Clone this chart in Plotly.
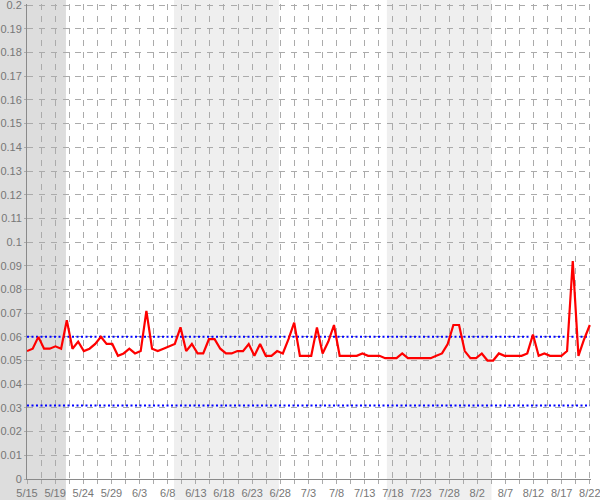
import pandas as pd
import plotly.graph_objects as go

START = "2013-05-15"
END = "2013-08-22"

VALUES = [
    0.054, 0.055, 0.060, 0.055, 0.055, 0.056, 0.055, 0.067, 0.055, 0.058,
    0.054, 0.055, 0.057, 0.060, 0.057, 0.057, 0.052, 0.053, 0.055, 0.053,
    0.054, 0.071, 0.055, 0.054, 0.055, 0.056, 0.057, 0.064, 0.054, 0.057,
    0.053, 0.053, 0.059, 0.059, 0.055, 0.053, 0.053, 0.054, 0.054, 0.057,
    0.052, 0.057, 0.052, 0.052, 0.054, 0.053, 0.059, 0.066, 0.052, 0.052,
    0.052, 0.064, 0.053, 0.058, 0.065, 0.052, 0.052, 0.052, 0.052, 0.053,
    0.052, 0.052, 0.052, 0.051, 0.051, 0.051, 0.053, 0.051, 0.051, 0.051,
    0.051, 0.051, 0.052, 0.053, 0.057, 0.065, 0.065, 0.054, 0.051, 0.051,
    0.053, 0.050, 0.050, 0.053, 0.052, 0.052, 0.052, 0.052, 0.053, 0.061,
    0.052, 0.053, 0.052, 0.052, 0.052, 0.054, 0.092, 0.052, 0.059, 0.065,
]

X_LABELS = ["5/15", "5/19", "5/24", "5/29", "6/3", "6/8", "6/13", "6/18", "6/23",
            "6/28", "7/3", "7/8", "7/13", "7/18", "7/23", "7/28", "8/2", "8/7",
            "8/12", "8/17", "8/22"]

Y_TICKS = [round(i * 0.01, 2) for i in range(21)]

THRESHOLDS = [0.06, 0.031]

DARK_BAND_END = "2013-05-21 20:24"
LIGHT_BANDS = [("2013-06-09 20:24", "2013-06-28 07:12"),
               ("2013-07-17 07:12", "2013-08-04 16:48")]

t0 = pd.Timestamp(START)
t1 = pd.Timestamp(END)
span = t1 - t0
dates = pd.date_range(START, periods=len(VALUES), freq="D")

tickvals = [t0 + span * i / 40 for i in range(41)]
ticktext = [X_LABELS[i // 2] if i % 2 == 0 else "" for i in range(41)]

# tiny padding so the end gridlines (0.2 and 8/22) are still drawn
x_end = t1 + pd.Timedelta(hours=5)
y_end = 0.2005

GRID = "#ababab"
AXIS = "#8a8a8a"
FONT = dict(family="Liberation Sans, Arial, sans-serif", size=11, color="#777777")

fig = go.Figure()
fig.add_trace(go.Scatter(x=dates, y=VALUES, mode="lines",
                         line=dict(color="#ff0000", width=2.2), hoverinfo="skip"))

shapes = []
dark_frac = (pd.Timestamp(DARK_BAND_END) - t0) / (x_end - t0)
shapes.append(dict(type="rect", xref="paper", yref="paper", x0=-0.2, x1=dark_frac,
                   y0=-0.2, y1=1.2, fillcolor="#dddddd", line_width=0, layer="below"))
for a, b in LIGHT_BANDS:
    shapes.append(dict(type="rect", xref="x", yref="paper", x0=a, x1=b,
                       y0=-0.2, y1=1.2, fillcolor="#efefef", line_width=0, layer="below"))
for th in THRESHOLDS:
    shapes.append(dict(type="line", xref="x", yref="y", x0=t0, x1=t1, y0=th, y1=th,
                       line=dict(color="#0000ff", width=2, dash="2px,2.5px"), layer="between"))

fig.update_layout(
    width=600, height=500,
    margin=dict(l=27, r=9, t=4, b=21, autoexpand=False),
    paper_bgcolor="white", plot_bgcolor="rgba(0,0,0,0)",
    showlegend=False, shapes=shapes, font=FONT,
)
fig.update_xaxes(
    type="date", range=[t0, x_end], tickmode="array", tickvals=tickvals, ticktext=ticktext,
    showgrid=True, gridcolor=GRID, griddash="6px,6px", gridwidth=1,
    showline=True, linecolor=AXIS, linewidth=1, automargin=False,
    ticks="outside", ticklen=4, tickcolor=GRID, tickfont=FONT, zeroline=False,
    ticklabeloverflow="allow",
)
fig.update_yaxes(
    range=[0, y_end], tickmode="array", tickvals=Y_TICKS,
    ticktext=[f"{v:g}" for v in Y_TICKS],
    showgrid=True, gridcolor=GRID, griddash="6px,6px", gridwidth=1,
    showline=True, linecolor=AXIS, linewidth=1, automargin=False,
    ticks="outside", ticklen=2, tickcolor=GRID, tickfont=FONT, zeroline=False,
    ticklabeloverflow="allow",
)

fig.write_html(
    "out.html",
    config={"displayModeBar": False, "staticPlot": True},
    post_script="document.body.style.margin='0';document.body.style.overflow='hidden';",
)
